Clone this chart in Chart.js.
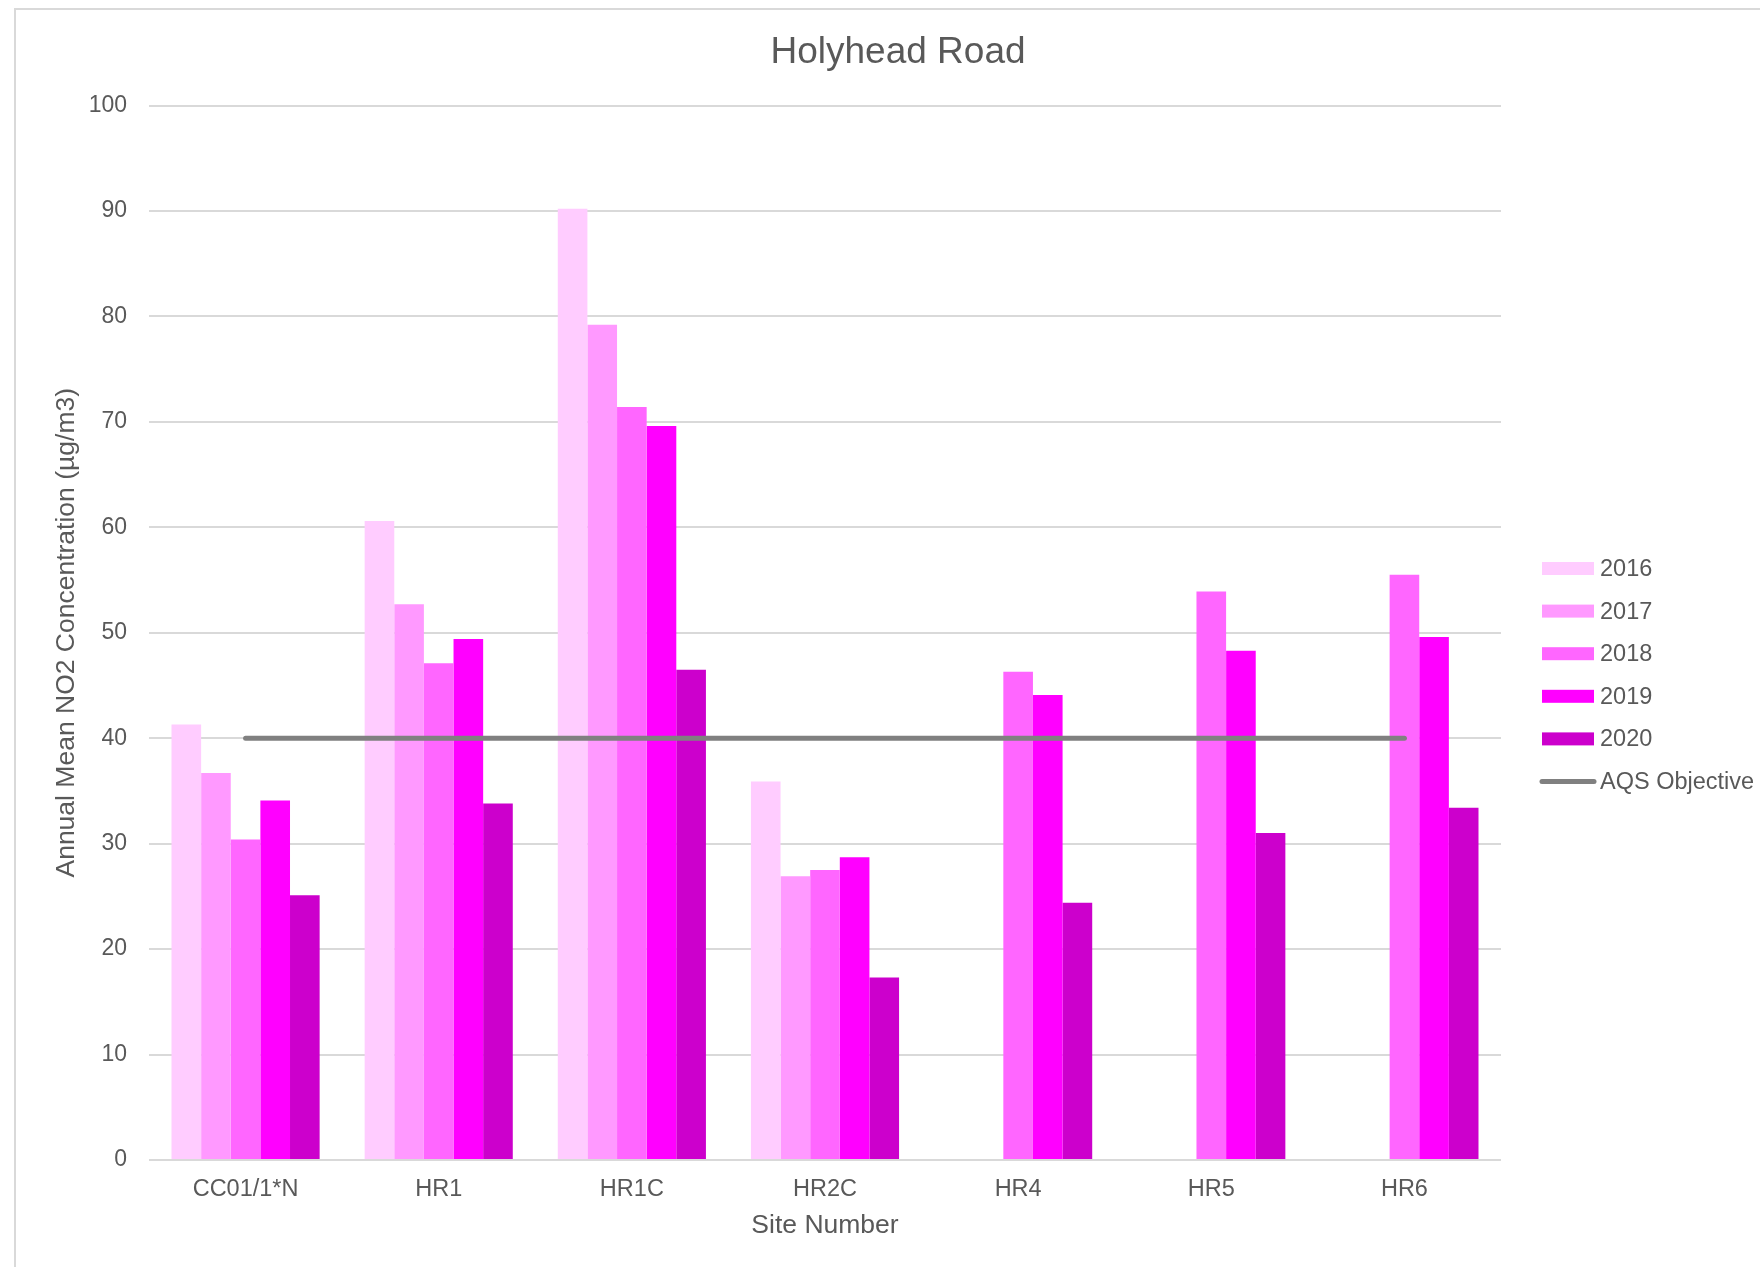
<!DOCTYPE html>
<html>
<head>
<meta charset="utf-8">
<title>Holyhead Road</title>
<script src="https://cdn.jsdelivr.net/npm/chart.js@4/dist/chart.umd.min.js"></script>
<style>
  html, body { margin: 0; padding: 0; background: #fff; }
  #wrap { width: 1760px; height: 1267px; }
</style>
</head>
<body>
<div id="wrap"><canvas id="chart" width="1760" height="1267"></canvas></div>
<script>
// site labels along the x axis
const sites = ['CC01/1*N', 'HR1', 'HR1C', 'HR2C', 'HR4', 'HR5', 'HR6'];

// annual mean NO2 per site, one array per year (null = not monitored)
const y2016 = [41.3, 60.6, 90.2, 35.9, null, null, null];
const y2017 = [36.7, 52.7, 79.2, 26.9, null, null, null];
const y2018 = [30.4, 47.1, 71.4, 27.5, 46.3, 53.9, 55.5];
const y2019 = [34.1, 49.4, 69.6, 28.7, 44.1, 48.3, 49.6];
const y2020 = [25.1, 33.8, 46.5, 17.3, 24.4, 31.0, 33.4];

// air quality strategy objective
const aqsObjective = [40, 40, 40, 40, 40, 40, 40];

const yearLabels = ['2016', '2017', '2018', '2019', '2020'];
const yearColors = ['#ffccff', '#ff99ff', '#ff66ff', '#ff00ff', '#cc00cc'];
const lineColor = '#808080';
const textColor = '#595959';
const fontFamily = '"Liberation Sans", Arial, sans-serif';

const yearSeries = [y2016, y2017, y2018, y2019, y2020];

const datasets = yearSeries.map((values, i) => ({
  type: 'bar',
  label: yearLabels[i],
  data: values,
  backgroundColor: yearColors[i],
  borderWidth: 0,
  categoryPercentage: 0.767,
  barPercentage: 1.0,
  order: 1
}));

datasets.push({
  type: 'line',
  label: 'AQS Objective',
  data: aqsObjective,
  borderColor: lineColor,
  backgroundColor: lineColor,
  borderWidth: 5,
  borderCapStyle: 'round',
  pointRadius: 0,
  fill: false,
  order: 0
});

// outer frame, chart title and the legend on the right
const decorations = {
  id: 'decorations',
  beforeDraw(chart) {
    const ctx = chart.ctx;
    ctx.save();
    ctx.fillStyle = '#ffffff';
    ctx.fillRect(0, 0, chart.width, chart.height);
    ctx.strokeStyle = '#d9d9d9';
    ctx.lineWidth = 2;
    ctx.beginPath();
    ctx.moveTo(15, chart.height);
    ctx.lineTo(15, 9);
    ctx.lineTo(chart.width, 9);
    ctx.stroke();
    ctx.restore();
  },
  afterDraw(chart) {
    const ctx = chart.ctx;
    const area = chart.chartArea;
    ctx.save();
    ctx.fillStyle = textColor;
    ctx.font = '37px ' + fontFamily;
    ctx.textAlign = 'center';
    ctx.textBaseline = 'middle';
    ctx.fillText('Holyhead Road', 898, 53);

    const boxLeft = area.right + 41;
    const boxW = 52;
    const boxH = 13;
    const firstRow = area.top + 463;
    const rowGap = 42.6;
    ctx.font = '23.5px ' + fontFamily;
    ctx.textAlign = 'left';
    chart.data.datasets.forEach((ds, i) => {
      const cy = firstRow + i * rowGap;
      if (ds.type === 'line') {
        ctx.strokeStyle = ds.borderColor;
        ctx.lineWidth = 5;
        ctx.lineCap = 'round';
        ctx.beginPath();
        ctx.moveTo(boxLeft, cy);
        ctx.lineTo(boxLeft + boxW, cy);
        ctx.stroke();
      } else {
        ctx.fillStyle = ds.backgroundColor;
        ctx.fillRect(boxLeft, cy - boxH / 2, boxW, boxH);
      }
      ctx.fillStyle = textColor;
      ctx.fillText(ds.label, boxLeft + boxW + 6, cy + 1);
    });
    ctx.restore();
  }
};

new Chart(document.getElementById('chart'), {
  data: { labels: sites, datasets },
  options: {
    responsive: false,
    animation: false,
    layout: { padding: { top: 105.5, right: 259, bottom: 17, left: 40 } },
    plugins: {
      legend: { display: false },
      title: { display: false },
      tooltip: { enabled: false }
    },
    scales: {
      x: {
        grid: { display: false, drawTicks: false },
        border: { display: false },
        ticks: {
          color: textColor,
          font: { family: fontFamily, size: 23.5 },
          padding: 15,
          maxRotation: 0
        },
        title: {
          display: true,
          text: 'Site Number',
          color: textColor,
          font: { family: fontFamily, size: 26.5 },
          padding: { top: 0, bottom: 8 }
        },
        afterFit(scale) { scale.height = 90; }
      },
      y: {
        min: 0,
        max: 100,
        grid: { color: '#d9d9d9', lineWidth: 2, drawTicks: false },
        border: { display: false },
        ticks: {
          stepSize: 10,
          color: textColor,
          font: { family: fontFamily, size: 23 },
          padding: 22
        },
        title: {
          display: true,
          text: 'Annual Mean NO2 Concentration (µg/m3)',
          color: textColor,
          font: { family: fontFamily, size: 26.5 },
          padding: { top: 11, bottom: 0 }
        },
        afterFit(scale) { scale.width = 109; }
      }
    }
  },
  plugins: [decorations]
});
</script>
</body>
</html>
